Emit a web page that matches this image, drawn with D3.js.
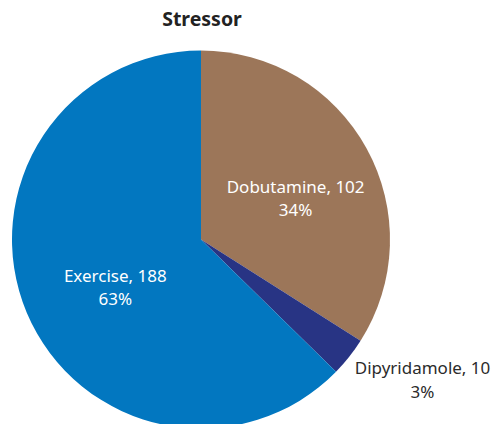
<!DOCTYPE html>
<html>
<head>
<meta charset="utf-8">
<script src="https://cdn.jsdelivr.net/npm/d3@7"></script>
<style>
  html, body { margin: 0; padding: 0; background: #fff; }
  svg { display: block; font-family: "Noto Sans", "Open Sans", sans-serif; }
</style>
</head>
<body>
<svg id="svg" width="496" height="424"></svg>
<script>
// --- Data ------------------------------------------------------------------
const categories = ["Dobutamine", "Dipyridamole", "Exercise"];
const counts = [102, 10, 188];
const percentLabels = ["34%", "3%", "63%"];
const title = "Stressor";

// --- Layout ----------------------------------------------------------------
const colors = ["#9c7659", "#283484", "#0277c0"];
const labelRadius = [108, 200, 93]; // where each label sits
const labelInside = [true, false, true];

const svg = d3.select("#svg");
const cx = 201, cy = 239.5, R = 189;

svg.append("text")
  .attr("x", 202).attr("y", 26)
  .attr("text-anchor", "middle")
  .attr("font-size", 19.5).attr("font-weight", "bold")
  .attr("fill", "#222")
  .text(title);

const pie = d3.pie().sort(null).value(d => d.value);
const arcs = pie(categories.map((c, i) => ({ name: c, value: counts[i], i })));
const arc = d3.arc().innerRadius(0).outerRadius(R);

const g = svg.append("g").attr("transform", `translate(${cx},${cy})`);

g.selectAll("path")
  .data(arcs).enter()
  .append("path")
  .attr("d", arc)
  .attr("fill", d => colors[d.data.i]);

// labels
arcs.forEach(d => {
  const i = d.data.i;
  const mid = (d.startAngle + d.endAngle) / 2;
  const x = Math.sin(mid) * labelRadius[i];
  const y = -Math.cos(mid) * labelRadius[i];
  const fill = labelInside[i] ? "#fff" : "#2b2b2b";
  const t = g.append("g").attr("font-size", 17).attr("fill", fill);
  if (labelInside[i]) {
    t.append("text").attr("x", x).attr("y", y + 6).attr("text-anchor", "middle")
      .text(`${d.data.name}, ${d.data.value}`);
    t.append("text").attr("x", x).attr("y", y + 29).attr("text-anchor", "middle")
      .text(percentLabels[i]);
  } else {
    const l1 = t.append("text").attr("x", x - 3).attr("y", y + 10).attr("text-anchor", "start")
      .text(`${d.data.name}, ${d.data.value}`);
    const w = l1.node().getComputedTextLength();
    t.append("text").attr("x", x - 3 + w / 2).attr("y", y + 34).attr("text-anchor", "middle")
      .text(percentLabels[i]);
  }
});
</script>
</body>
</html>
